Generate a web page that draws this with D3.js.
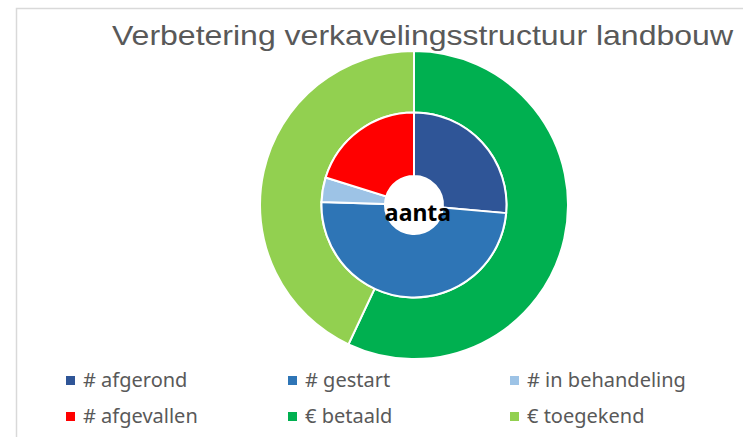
<!DOCTYPE html>
<html>
<head>
<meta charset="utf-8">
<script src="https://cdn.jsdelivr.net/npm/d3@7"></script>
<style>
  body { margin: 0; background: #fff; }
  svg { display: block; }
</style>
</head>
<body>
<svg id="chart" width="743" height="437"></svg>
<script>
// categories and values
var categories = ["# afgerond", "# gestart", "# in behandeling", "# afgevallen", "€ betaald", "€ toegekend"];
var colors = ["#2F5597", "#2E75B6", "#9DC3E6", "#FF0000", "#00B050", "#92D050"];
var aantal = [26.4, 49.1, 4.3, 20.2];   // inner ring (counts share)
var bedrag = [57, 43];                  // outer ring (€ betaald / € toegekend)
var centerLabel = "aanta";
var title = "Verbetering verkavelingsstructuur landbouw";

var svg = d3.select("#chart");
var cx = 414, cy = 205;

var color = d3.scaleOrdinal().domain(categories).range(colors);

// chart border (cut off at right and bottom)
svg.append("rect")
  .attr("x", 16.5).attr("y", 8.5)
  .attr("width", 800).attr("height", 500)
  .attr("fill", "none")
  .attr("stroke", "#D9D9D9")
  .attr("stroke-width", 1.5);

// title
svg.append("text")
  .attr("x", 112).attr("y", 45)
  .attr("font-family", "Liberation Sans, Arial, sans-serif")
  .attr("font-size", 28)
  .attr("fill", "#595959")
  .attr("textLength", 621)
  .attr("lengthAdjust", "spacingAndGlyphs")
  .text(title);

var pie = d3.pie().sort(null).value(d => d.v);

var g = svg.append("g").attr("transform", "translate(" + cx + "," + cy + ")");

////outer ring
var outerData = bedrag.map((v, i) => ({ name: categories[4 + i], v: v }));
var outerArc = d3.arc().innerRadius(92.5).outerRadius(154);
g.selectAll(".outer")
  .data(pie(outerData))
  .enter()
  .append("path")
  .attr("class", "outer")
  .attr("d", outerArc)
  .attr("fill", d => color(d.data.name))
  .attr("stroke", "#fff")
  .attr("stroke-width", 2);

////inner ring
var innerData = aantal.map((v, i) => ({ name: categories[i], v: v }));
var innerArc = d3.arc().innerRadius(29).outerRadius(92.5);
g.selectAll(".inner")
  .data(pie(innerData))
  .enter()
  .append("path")
  .attr("class", "inner")
  .attr("d", innerArc)
  .attr("fill", d => color(d.data.name))
  .attr("stroke", "#fff")
  .attr("stroke-width", 2);

// label in the middle
svg.append("text")
  .attr("x", 418).attr("y", 221)
  .attr("text-anchor", "middle")
  .attr("font-family", "Noto Sans, sans-serif")
  .attr("font-weight", "bold")
  .attr("font-size", 23)
  .attr("fill", "#000")
  .text(centerLabel);

////legend
var legendCols = [66, 288, 510];
var legendRows = [387, 423];
var legend = svg.append("g").selectAll("g")
  .data(categories)
  .enter()
  .append("g")
  .attr("transform", (d, i) => "translate(" + legendCols[i % 3] + "," + legendRows[Math.floor(i / 3)] + ")");

legend.append("rect")
  .attr("x", 0).attr("y", -11)
  .attr("width", 9).attr("height", 9)
  .attr("fill", d => color(d));

legend.append("text")
  .attr("x", 17).attr("y", 0)
  .attr("font-family", "Noto Sans, sans-serif")
  .attr("font-size", 20)
  .attr("fill", "#595959")
  .text(d => d);
</script>
</body>
</html>
